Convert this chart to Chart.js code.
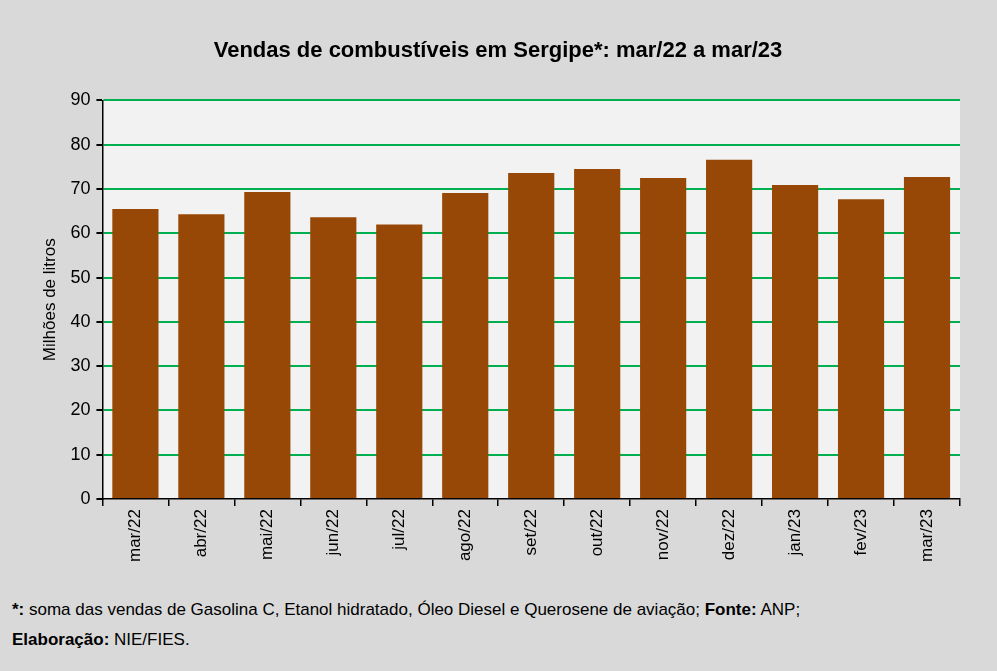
<!DOCTYPE html>
<html>
<head>
<meta charset="utf-8">
<script src="https://cdn.jsdelivr.net/npm/chart.js@4"></script>
<style>
  body { margin: 0; background: #d9d9d9; font-family: "Liberation Sans", Arial, sans-serif; }
  #wrap { position: absolute; left: 0; top: 0; width: 997px; height: 585px; }
  .note { position: absolute; left: 12px; font-size: 17px; color: #000; }
</style>
</head>
<body>
<div id="wrap"><canvas id="chart"></canvas></div>
<div class="note" style="top:600px"><b>*:</b> soma das vendas de Gasolina C, Etanol hidratado, Óleo Diesel e Querosene de aviação; <b>Fonte:</b> ANP;</div>
<div class="note" style="top:630px"><b>Elaboração:</b> NIE/FIES.</div>
<script>
const months = ['mar/22','abr/22','mai/22','jun/22','jul/22','ago/22','set/22','out/22','nov/22','dez/22','jan/23','fev/23','mar/23'];
const sales = [65.5, 64.3, 69.3, 63.6, 62.0, 69.1, 73.6, 74.5, 72.5, 76.6, 70.9, 67.7, 72.7];

// fundo cinza claro da área de plotagem
const plotBg = {
  id: 'plotBg',
  beforeDraw(chart) {
    const a = chart.chartArea, ctx = chart.ctx;
    ctx.save();
    ctx.fillStyle = '#f2f2f2';
    ctx.fillRect(a.left, a.top, a.right - a.left, a.bottom - a.top);
    ctx.restore();
  }
};

new Chart(document.getElementById('chart'), {
  type: 'bar',
  data: {
    labels: months,
    datasets: [{
      data: sales,
      backgroundColor: '#974806',
      barPercentage: 0.7,
      categoryPercentage: 1.0
    }]
  },
  options: {
    responsive: true,
    maintainAspectRatio: false,
    animation: false,
    layout: { padding: { left: 36, right: 37, top: 10, bottom: 20 } },
    plugins: {
      legend: { display: false },
      tooltip: { enabled: false },
      title: {
        display: true,
        text: 'Vendas de combustíveis em Sergipe*: mar/22 a mar/23',
        color: '#000',
        font: { size: 22, weight: 'bold', family: 'Liberation Sans' },
        padding: { top: 28, bottom: 36 }
      }
    },
    scales: {
      x: {
        grid: { drawOnChartArea: false, offset: true, tickColor: '#000', tickLength: 7, lineWidth: 1.5 },
        border: { color: '#000', width: 1.5 },
        ticks: { color: '#000', maxRotation: 90, minRotation: 90, font: { size: 17, family: 'Liberation Sans' } }
      },
      y: {
        min: 0, max: 90,
        ticks: { stepSize: 10, color: '#000', font: { size: 18, family: 'Liberation Sans' }, padding: 6 },
        grid: {
          color: ctx => ctx.tick.value === 0 ? 'rgba(0,0,0,0)' : '#00b050',
          lineWidth: 2,
          tickColor: '#000',
          tickLength: 6
        },
        border: { color: '#000', width: 1.5 },
        title: { display: true, text: 'Milhões de litros', color: '#000', font: { size: 17, family: 'Liberation Sans' } }
      }
    }
  },
  plugins: [plotBg]
});
</script>
</body>
</html>
